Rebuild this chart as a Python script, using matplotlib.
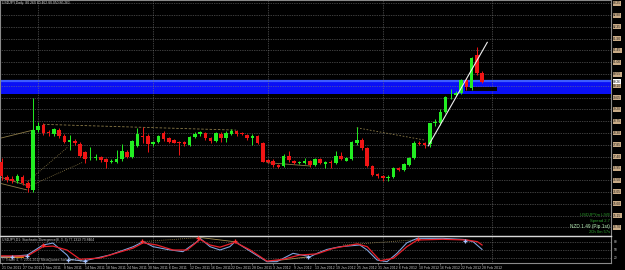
import matplotlib
matplotlib.use('Agg')
import matplotlib.pyplot as plt
import matplotlib.transforms as mtransforms
from matplotlib.patches import Rectangle
import numpy as np

plt.rcParams['font.family'] = ['Liberation Sans', 'DejaVu Sans']

# ---------------- data ----------------
date_labels = ['21 Oct 2011', '27 Oct 2011', '2 Nov 2011', '8 Nov 2011', '14 Nov 2011',
               '18 Nov 2011', '24 Nov 2011', '30 Nov 2011', '6 Dec 2011', '12 Dec 2011',
               '16 Dec 2011', '22 Dec 2011', '28 Dec 2011', '3 Jan 2012', '9 Jan 2012',
               '13 Jan 2012', '19 Jan 2012', '25 Jan 2012', '31 Jan 2012', '6 Feb 2012',
               '10 Feb 2012', '16 Feb 2012', '22 Feb 2012', '28 Feb 2012']
month_starts = [7, 29, 51, 73, 94]

open_ = [77.21, 76.61, 76.56, 76.48, 76.61, 76.38, 76.13, 78.42, 78.61, 78.35,
         78.25, 78.42, 78.20, 77.97, 78.01, 77.87, 77.57, 77.33, 77.34, 77.38,
         77.31, 77.21, 77.21, 77.30, 77.59, 77.40, 77.81, 78.20, 78.19, 77.87,
         77.95, 78.29, 78.10, 78.04, 77.97, 77.95, 77.85, 78.16, 78.25, 78.29,
         78.12, 78.01, 78.27, 78.12, 78.27, 78.39, 78.30, 78.23, 78.10, 78.19,
         77.91, 77.27, 77.23, 77.08, 77.04, 77.44, 77.23, 77.17, 77.17, 77.23,
         77.08, 77.31, 77.12, 77.17, 77.17, 77.43, 77.25, 77.31, 77.91, 78.04,
         77.72, 77.04, 76.74, 76.67, 76.60, 76.61, 76.98, 76.89, 77.08, 77.34,
         77.93, 77.91, 77.88, 78.68, 78.67, 79.12, 79.70, 79.75, 79.82, 80.33,
         80.01, 81.28, 80.60]
high = [77.35, 76.70, 76.65, 76.74, 76.70, 76.47, 79.63, 78.72, 78.69, 78.42,
        78.50, 78.50, 78.27, 78.23, 78.08, 77.95, 77.60, 77.78, 77.48, 77.44,
        77.36, 77.30, 77.65, 77.87, 77.65, 78.05, 78.48, 78.54, 78.25, 78.00,
        78.24, 78.36, 78.14, 78.08, 78.00, 78.00, 78.20, 78.32, 78.38, 78.35,
        78.16, 78.35, 78.32, 78.37, 78.45, 78.43, 78.35, 78.28, 78.25, 78.23,
        77.95, 77.30, 77.30, 77.10, 77.50, 77.62, 77.28, 77.25, 77.34, 77.27,
        77.35, 77.36, 77.22, 77.27, 77.62, 77.59, 77.38, 78.00, 78.51, 78.10,
        77.75, 77.08, 76.78, 76.70, 76.68, 77.00, 77.02, 77.16, 77.38, 77.98,
        77.98, 77.95, 78.70, 78.85, 79.20, 79.72, 79.97, 79.90, 80.38, 80.40,
        81.20, 81.60, 80.65]
low = [76.52, 76.43, 76.40, 76.39, 76.33, 76.06, 76.06, 78.34, 78.23, 78.20,
       78.20, 78.12, 77.90, 77.65, 77.84, 77.38, 77.17, 77.27, 77.28, 77.20,
       76.95, 77.15, 77.17, 77.25, 77.35, 77.36, 77.75, 77.91, 77.59, 77.80,
       77.90, 78.00, 77.92, 77.90, 77.46, 77.82, 77.80, 78.10, 78.20, 78.05,
       77.90, 77.95, 77.97, 77.97, 78.22, 78.20, 78.22, 78.05, 77.85, 77.88,
       77.18, 77.15, 77.00, 76.98, 77.00, 77.20, 77.12, 77.10, 77.12, 77.02,
       77.04, 77.10, 76.95, 76.97, 77.12, 77.27, 77.22, 77.27, 77.85, 77.65,
       77.00, 76.65, 76.60, 76.48, 76.48, 76.57, 76.85, 76.85, 77.05, 77.30,
       77.84, 77.72, 77.78, 78.58, 78.60, 79.05, 79.60, 79.70, 79.78, 79.95,
       79.95, 80.50, 80.20]
close = [76.64, 76.51, 76.48, 76.66, 76.41, 76.19, 78.42, 78.57, 78.29, 78.29,
         78.44, 78.19, 77.95, 78.04, 77.91, 77.43, 77.31, 77.34, 77.40, 77.27,
         77.18, 77.25, 77.31, 77.62, 77.40, 78.00, 78.25, 78.14, 77.88, 77.97,
         78.19, 78.06, 77.97, 77.93, 77.91, 77.87, 78.16, 78.27, 78.33, 78.10,
         78.01, 78.29, 78.10, 78.31, 78.39, 78.27, 78.28, 78.10, 78.19, 77.91,
         77.21, 77.21, 77.08, 77.02, 77.43, 77.27, 77.17, 77.21, 77.23, 77.08,
         77.30, 77.14, 77.18, 77.15, 77.43, 77.31, 77.34, 77.97, 78.04, 77.72,
         77.04, 76.70, 76.66, 76.57, 76.63, 76.95, 76.89, 77.12, 77.34, 77.93,
         77.88, 77.85, 78.67, 78.72, 79.12, 79.67, 79.72, 79.84, 80.33, 80.05,
         81.15, 80.58, 80.26]

# stochastic main / signal lines (bar index, value)
stoch_main_x = [0, 4.9, 7.9, 9.8, 12.5, 13.1, 15.6, 20.7, 25.2, 27.1, 29.0, 31.7, 34.7,
                37.4, 38.0, 39.9, 41.8, 43.7, 44.7, 46.2, 50.8, 52.7, 55.8, 59.1, 60.4,
                62.3, 64.8, 68.6, 70.0, 71.9, 73.8, 75.7, 77.6, 79.6, 84.5, 88.4, 90.3, 92.0]
stoch_main_y = [24, 32, 68, 75, 32, 16.5, 10, 32, 62, 80, 62, 52, 44,
                80, 92, 62, 50, 62, 80, 62, 8, 8, 38, 26, 38,
                52, 62, 68, 50, 14, 8, 38, 76, 92, 92, 88, 80, 52]
stoch_sig_x = [0, 4.9, 7.9, 9.8, 12.5, 15.0, 18.8, 25.2, 27.1, 29.7, 32.8, 35.5, 38.0,
               39.9, 41.8, 44.7, 47.6, 50.8, 53.9, 57.1, 60.4, 63.5, 68.1, 70.0, 72.5,
               75.0, 77.6, 79.6, 84.5, 89.1, 91.1, 92.0]
stoch_sig_y = [29, 28, 62, 64, 50, 16.5, 21, 57, 76, 68, 50, 50, 88,
               68, 60, 78, 50, 10, 16.5, 32, 36, 56, 72, 62, 11.5,
               20, 62, 86, 88.5, 86, 80, 68]
peak_x = [7.9, 26.9, 37.6, 44.7, 79.7]
peak_y = [68, 82, 93, 82, 89]
trough_x = [2.0, 4.9, 12.7, 16.0, 58.7, 88.8]
trough_y = [25, 28, 14, 10, 25, 83]

# drawn objects
trend_x = [81.7, 93.0]
trend_y = [77.81, 81.76]
zone_lo, zone_hi = 79.78, 80.33
bar_x0, bar_x1, bar_lo, bar_hi = 88.8, 94.9, 79.91, 80.04
tan_lines = [([-0.3, 6.0], [78.10, 78.41], '-'),
             ([7.9, 44.9], [78.63, 78.41], (0, (3, 2))),
             ([68.0, 81.0], [78.50, 78.03], (0, (2, 2))),
             ([-0.3, 4.8], [76.38, 76.13], '-'),
             ([-0.3, 4.8], [76.62, 76.30], '-'),
             ([4.85, 12.7], [76.43, 77.77], (0, (1, 1.5))),
             ([5.4, 15.6], [76.28, 77.19], (0, (1, 1.5))),
             ([50.8, 59.1], [77.17, 77.04], '-')]
ind_lines = [([27, 38], [80, 95], (0, (1, 1.5))),
             ([38, 44.5], [95, 80], '-'),
             ([50.8, 59.1], [8, 26], '-'),
             ([65.4, 80.1], [68, 88], (0, (1, 1.5)))]
bid = 80.26

# ---------------- figure ----------------
W, H = 625, 270
fig = plt.figure(figsize=(W / 100, H / 100), dpi=100, facecolor='black')
ax = fig.add_axes([0, 1 - 236 / H, 611 / W, 236 / H], facecolor='black')
ax2 = fig.add_axes([0, 1 - 263 / H, 611 / W, 27 / H], facecolor='black')

xlim = (-0.33, 116.7)
for a in (ax, ax2):
    a.set_xlim(*xlim)
    for s in a.spines.values():
        s.set_color('#8a8a8a')
        s.set_linewidth(0.8)
ax.set_ylim(74.369, 83.376)
ax2.set_ylim(3.2, 100.4)
ax2.spines['top'].set_color('#d8d8d8')
ax2.spines['top'].set_linewidth(1.0)

grid_kw = dict(color='#7a7a7a', lw=0.5, ls=(0, (1, 1.5)), zorder=1.5)
levels = np.arange(74.70, 83.30, 0.45)
for lv in levels:
    ax.axhline(lv, **grid_kw)
for m in month_starts:
    ax.axvline(m, **grid_kw)
    ax2.axvline(m, **grid_kw)
for lv in (20, 50, 80):
    ax2.axhline(lv, **grid_kw)

# blue zone
ax.add_patch(Rectangle((xlim[0], zone_lo), xlim[1] - xlim[0], zone_hi - zone_lo,
                       facecolor='#0a10f5', edgecolor='none', zorder=1))
ax.axhline(zone_hi - 0.03, color='#3c5cff', lw=1.6, zorder=1.1)
ax.add_patch(Rectangle((bar_x0, bar_lo), bar_x1 - bar_x0, bar_hi - bar_lo,
                       facecolor='#050505', edgecolor='none', zorder=2))

# tan analysis lines
for xs, ys, st in tan_lines:
    ax.plot(xs, ys, color='#8c7b48', lw=0.6, ls=st, zorder=2)

# candles
idx = np.arange(len(open_))
o = np.array(open_); c = np.array(close)
up = c >= o
cols = np.where(up, '#22ee22', '#f01515')
ax.vlines(idx, low, high, colors=cols, lw=0.7, zorder=3)
ax.bar(idx, np.maximum(np.abs(c - o), 0.025), bottom=np.minimum(o, c), width=0.68,
       color=cols, linewidth=0, zorder=4)

# trend line
ax.plot(trend_x, trend_y, color='#f0f0f0', lw=0.8, zorder=5)

# title
ax.text(0.003, 0.995, 'USDJPY,Daily  80.260 80.462 80.050 80.261', transform=ax.transAxes,
        fontsize=2.4, color='#d0d0d0', va='top', ha='left')

# right price scale
tr = mtransforms.blended_transform_factory(fig.transFigure, ax.transData)
for lv in levels:
    ax.text(613 / W, lv, f'{lv:.2f}', transform=tr, fontsize=2.3, color='#1a1a1a',
            va='center', ha='left', clip_on=False,
            bbox=dict(boxstyle='square,pad=0.15', fc='#c9ab86', ec='none'))
ax.text(613 / W, bid, f'{bid:.2f}', transform=tr, fontsize=2.3, color='black',
        va='center', ha='left', clip_on=False,
        bbox=dict(boxstyle='square,pad=0.15', fc='white', ec='none'))

# info text
info = [('USDJPYm LIVE', 215, '#2ea02e', 3.0), ('Spread 2.7', 221, '#2ea02e', 3.0),
        ('NZD 1.49 (Pip 1st)', 226.5, '#b8f0b8', 3.4), ('20h 0m 57s', 232, '#2ea02e', 3.0)]
for t, yp, col, fs in info:
    fig.text(610 / W, 1 - yp / H, t, fontsize=fs, color=col, ha='right', va='center')

# stochastic
ax2.plot(stoch_main_x, stoch_main_y, color='#7fa2dc', lw=0.8, zorder=3)
ax2.plot(stoch_sig_x, stoch_sig_y, color='#e8202a', lw=0.9, zorder=4)
for xs, ys, st in ind_lines:
    ax2.plot(xs, ys, color='#a08c50', lw=0.6, ls=st, zorder=2)
ax2.plot([-0.33, 4.0], [26, 26], color='#ff9a20', lw=1.2, zorder=2)
ax2.plot(peak_x, peak_y, ls='none', marker='+', ms=3.5, mew=0.9, color='#ff3030', zorder=5)
ax2.plot(trough_x, trough_y, ls='none', marker='+', ms=3.5, mew=0.9, color='#a8c4ff', zorder=5)
ax2.text(0.003, 0.93, 'USDJPY,D1: Stochastic Divergence(8, 3, 3) 77.1313 73.8464',
         transform=ax2.transAxes, fontsize=2.4, color='#d0d0d0', va='top', ha='left')
ax2.text(0.003, 0.04, '\u00a9 Trader 4, \u00a9 2001-2012 MetaQuotes Software Corp.',
         transform=ax2.transAxes, fontsize=2.4, color='#b0b0b0', va='bottom', ha='left')
tr2 = mtransforms.blended_transform_factory(fig.transFigure, ax2.transData)
for lv in (80, 50, 20):
    ax2.text(614 / W, lv, str(lv), transform=tr2, fontsize=2.3, color='#d0d0d0',
             va='center', ha='left', clip_on=False)

# axes ticks
ax.set_xticks([]); ax.set_yticks([])
ax2.set_yticks([])
ax2.set_xticks(np.arange(0, 93, 4))
ax2.set_xticklabels(date_labels, ha='left', fontsize=2.5, color='#c8c8c8')
ax2.tick_params(axis='x', length=1.5, width=0.5, color='#8a8a8a', pad=0.6)

fig.savefig('out.png', dpi=100, facecolor='black')
